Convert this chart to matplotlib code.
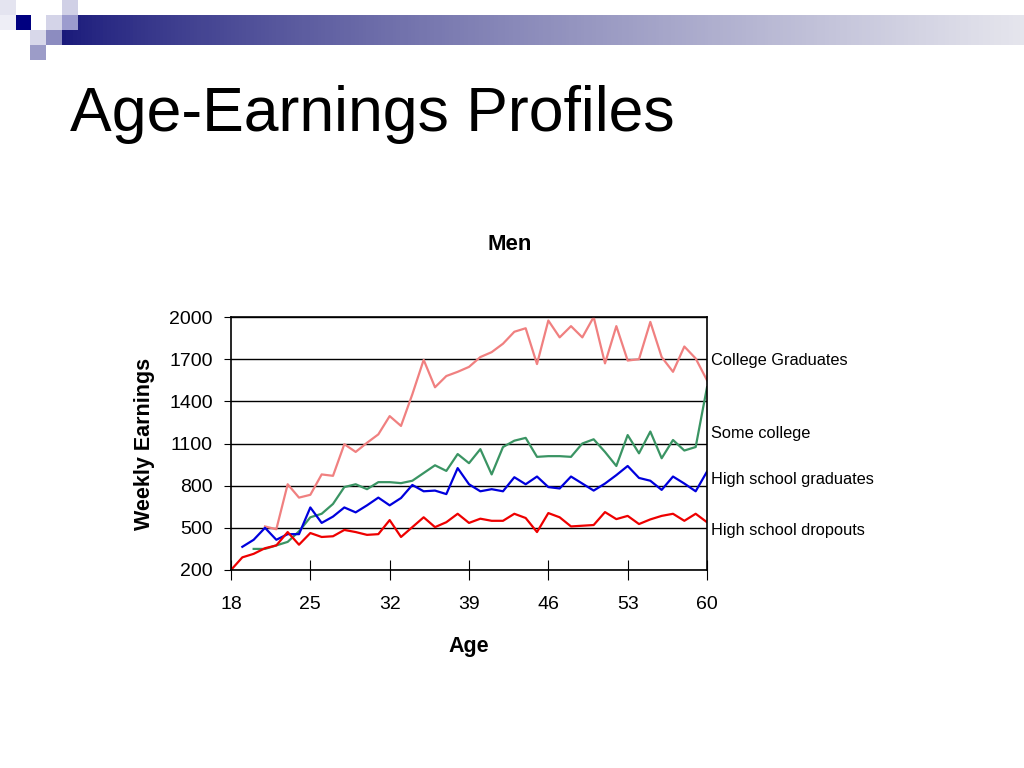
import numpy as np
import matplotlib
matplotlib.use('Agg')
import matplotlib.pyplot as plt
from matplotlib.patches import Rectangle

plt.rcParams['font.family'] = ['Liberation Sans', 'DejaVu Sans']

# weekly earnings by age, men
ages = list(range(18, 61))

dropouts = [200, 290, 315, 355, 375, 470, 380, 463, 435, 440, 485, 470, 450, 455,
            555, 435, 505, 575, 505, 540, 600, 535, 565, 550, 550, 600, 570, 470,
            605, 575, 510, 515, 520, 612, 562, 585, 527, 560, 585, 600, 550, 600, 540]

hs_grad_ages = list(range(19, 61))
hs_grads = [365, 415, 500, 415, 455, 455, 645, 535, 580, 645, 610, 660, 715, 660,
            712, 805, 760, 765, 740, 925, 810, 760, 775, 760, 860, 810, 865, 790,
            780, 865, 815, 765, 815, 875, 940, 855, 835, 770, 865, 815, 760, 900]

some_col_ages = list(range(20, 61))
some_college = [350, 350, 375, 400, 475, 575, 600, 670, 790, 810, 775, 825, 825, 818,
                835, 890, 945, 905, 1025, 960, 1060, 880, 1075, 1120, 1140, 1005,
                1010, 1010, 1005, 1100, 1130, 1040, 940, 1160, 1030, 1185, 995, 1125,
                1050, 1075, 1500]

col_grad_ages = list(range(21, 61))
col_grads = [510, 490, 810, 715, 735, 880, 870, 1095, 1040, 1105, 1165, 1295, 1225,
             1450, 1695, 1500, 1580, 1610, 1645, 1715, 1750, 1810, 1895, 1920, 1665,
             1975, 1855, 1935, 1855, 2000, 1670, 1935, 1690, 1700, 1965, 1715, 1610,
             1790, 1705, 1550]

series_labels = ['College Graduates', 'Some college', 'High school graduates',
                 'High school dropouts']
label_levels = [1690, 1170, 845, 480]

xticks = [18, 25, 32, 39, 46, 53, 60]
yticks = [200, 500, 800, 1100, 1400, 1700, 2000]

fig = plt.figure(figsize=(10.24, 7.68), dpi=100)

# slide header decoration
deco = fig.add_axes([0, 0, 1, 1])
deco.set_xlim(0, 1024)
deco.set_ylim(768, 0)
deco.axis('off')
grad = np.linspace(0, 1, 256).reshape(1, -1)
c0 = np.array([0.10, 0.10, 0.48])
c1 = np.array([0.90, 0.90, 0.93])
img = c0 + (c1 - c0) * grad[..., None] ** 0.8
deco.imshow(img, extent=[62, 1024, 45, 15], aspect='auto', zorder=1)
squares = [(0, 0, '#e4e4f0'), (62, 0, '#d0d0e6'), (15, 15, '#000080'),
           (46, 15, '#d4d4e8'), (62, 15, '#9c9cce'), (30, 30, '#d8d8ea'),
           (46, 30, '#8c8cc0'), (30, 45, '#9c9cc8'), (0, 15, '#eeeef6')]
for sx, sy, sc in squares:
    deco.add_patch(Rectangle((sx, sy), 16, 15, color=sc, lw=0, zorder=2))
deco.set_zorder(0)

fig.text(70 / 1024, 1 - 114 / 768, 'Age-Earnings Profiles', fontsize=45,
         ha='left', va='center')
fig.text(510 / 1024, 1 - 244 / 768, 'Men', fontsize=16, fontweight='bold',
         ha='center', va='center')

ax = fig.add_axes([231 / 1024, 1 - 570 / 768, 476 / 1024, 253 / 768])
ax.plot(col_grad_ages, col_grads, color='#f08080', lw=1.6)
ax.plot(some_col_ages, some_college, color='#3a9463', lw=1.6)
ax.plot(hs_grad_ages, hs_grads, color='#0000dd', lw=1.6)
ax.plot(ages, dropouts, color='#ee0000', lw=1.6)

ax.set_xlim(18, 60)
ax.set_ylim(200, 2000)
ax.set_xticks(xticks)
ax.set_yticks(yticks)
ax.tick_params(axis='x', direction='inout', length=14, labelsize=14, pad=12)
ax.tick_params(axis='y', direction='out', length=5, labelsize=14, pad=8)
ax.yaxis.grid(True, color='black', lw=1)
ax.set_axisbelow(True)
for s in ax.spines.values():
    s.set_color('black')
    s.set_linewidth(1.2)

ax.set_xlabel('Age', fontsize=15.5, fontweight='bold', labelpad=16)
ax.set_ylabel('Weekly Earnings', fontsize=15.5, fontweight='bold', labelpad=10)

for lab, lev in zip(series_labels, label_levels):
    ax.text(60.35, lev, lab, fontsize=11.8, ha='left', va='center', clip_on=False)

fig.savefig('out.png', dpi=100)
